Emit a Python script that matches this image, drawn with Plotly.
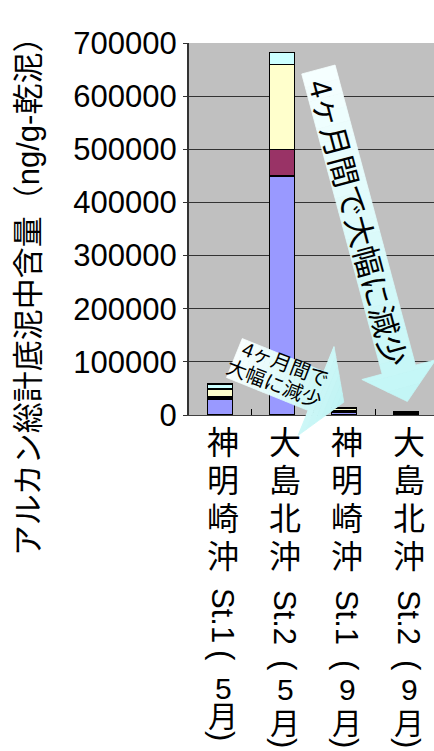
import math
import plotly.graph_objects as go

# ---------------- data ----------------
sites = ["神明崎沖", "大島北沖", "神明崎沖", "大島北沖"]
stations = ["St.1", "St.2", "St.1", "St.2"]
months = ["5", "5", "9", "9"]
categories = [f"{a} {b}（{m}月）" for a, b, m in zip(sites, stations, months)]

series_names = ["成分1", "成分2", "成分3", "成分4"]
series1 = [30000, 450000, 5000, 2500]
series2 = [4000, 50000, 3000, 1000]
series3 = [15000, 160000, 4000, 1500]
series4 = [9000, 22000, 2000, 1000]
series_colors = ["#9999FF", "#993366", "#FFFFCC", "#CCFFFF"]

y_tick_values = [0, 100000, 200000, 300000, 400000, 500000, 600000, 700000]
y_title = "アルカン総計底泥中含量（ng/g-乾泥）"
big_callout = "4ヶ月間で大幅に減少"
small_callout = ["4ヶ月間で", "大幅に減少"]

# ---------------- layout geometry (pixels) ----------------
W, H = 434, 751
L, R, T, B = 189, 434, 43, 415
LATIN = "Liberation Sans, Arial, Noto Sans CJK JP"
CJK = "Noto Sans CJK JP, Liberation Sans"


def px(x):
    return (x - L) / (R - L)


def py(y):
    return (B - y) / (B - T)


fig = go.Figure()
for name, vals, col in zip(series_names, [series1, series2, series3, series4], series_colors):
    fig.add_trace(go.Bar(
        x=categories, y=vals, name=name,
        marker=dict(color=col, line=dict(color="black", width=1.5)),
        hoverinfo="skip",
    ))


# ---------------- gradient callout arrows ----------------
def clip(poly, a, keep_greater):
    out = []
    n = len(poly)
    for i in range(n):
        p = poly[i]
        q = poly[(i + 1) % n]
        pin = p[0] >= a if keep_greater else p[0] <= a
        qin = q[0] >= a if keep_greater else q[0] <= a
        if pin:
            out.append(p)
        if pin != qin:
            t = (a - p[0]) / (q[0] - p[0])
            out.append((a, p[1] + t * (q[1] - p[1])))
    return out


def lerp_col(c0, c1, f):
    return "rgb(%d,%d,%d)" % tuple(round(c0[k] + (c1[k] - c0[k]) * f) for k in range(3))


def arrow_shapes(origin, ang_deg, poly, c0, c1, n=24):
    a = math.radians(ang_deg)
    u = (math.cos(a), math.sin(a))
    v = (-math.sin(a), math.cos(a))
    smin = min(p[0] for p in poly)
    smax = max(p[0] for p in poly)
    shapes = []
    for i in range(n):
        s0 = smin + (smax - smin) * i / n
        s1 = smin + (smax - smin) * (i + 1) / n
        part = clip(clip(poly, s0, True), s1, False)
        if len(part) < 3:
            continue
        col = lerp_col(c0, c1, (i + 0.5) / n)
        pts = [(origin[0] + s * u[0] + t * v[0], origin[1] + s * u[1] + t * v[1]) for s, t in part]
        path = "M " + " L ".join(f"{px(x):.5f},{py(y):.5f}" for x, y in pts) + " Z"
        shapes.append(dict(type="path", xref="paper", yref="paper", path=path,
                           fillcolor=col, line=dict(color=col, width=0.8), layer="above"))
    return shapes


# big arrow: axis pointing down-right, 75deg from horizontal
big_poly = [(0, -17.25), (310.7, -17.25), (310.7, -38.25), (343.7, 0),
            (310.7, 38.25), (310.7, 17.25), (0, 17.25)]
shapes = arrow_shapes((318.4, 69.5), 75, big_poly, (246, 255, 255), (194, 246, 246))

# small arrow: axis 22deg below horizontal, tip towards third bar
small_poly = [(-88, -21), (0, -21), (0, -48), (30, 0), (0, 48), (0, 21), (-88, 21)]
shapes += arrow_shapes((316, 391), 22, small_poly, (250, 255, 255), (190, 244, 244))

annotations = []
annotations.append(dict(text=big_callout, xref="paper", yref="paper", x=px(357), y=py(223),
                        xanchor="center", yanchor="middle", textangle=75, showarrow=False,
                        font=dict(family=LATIN, size=31, color="black")))
for line, (cx, cy) in zip(small_callout, [(285, 363.8), (274.2, 384.2)]):
    annotations.append(dict(text=line, xref="paper", yref="paper", x=px(cx), y=py(cy),
                            xanchor="center", yanchor="middle", textangle=21, showarrow=False,
                            font=dict(family=LATIN, size=20, color="black")))

# y-axis title
annotations.append(dict(text=y_title, xref="paper", yref="paper", x=px(28), y=py(289),
                        xanchor="center", yanchor="middle", textangle=-90, showarrow=False,
                        font=dict(family=LATIN, size=31, color="black")))

# vertical category labels
char_y = [440, 478, 516, 554]
rows_default = dict(st=617, lp=665, num=689, mon=721, rp=743)
rows_first = dict(st=615, lp=655, num=688, mon=714, rp=736)
for i, cat in enumerate(categories):
    rows = rows_first if i == 0 else rows_default
    common = dict(xref="x", yref="paper", x=cat, xshift=3, xanchor="center",
                  yanchor="middle", showarrow=False)
    for ch, yy in zip(sites[i], char_y):
        annotations.append(dict(text=ch, y=py(yy), font=dict(family=CJK, size=32, color="black"), **common))
    annotations.append(dict(text=stations[i], y=py(rows["st"]), textangle=90,
                            font=dict(family=LATIN, size=31, color="black"), **common))
    annotations.append(dict(text="(", y=py(rows["lp"]), textangle=90,
                            font=dict(family=LATIN, size=31, color="black"), **common))
    annotations.append(dict(text=months[i], y=py(rows["num"]),
                            font=dict(family=LATIN, size=30, color="black"), **common))
    annotations.append(dict(text="月", y=py(rows["mon"]),
                            font=dict(family=CJK, size=30, color="black"), **common))
    annotations.append(dict(text=")", y=py(rows["rp"]), textangle=90,
                            font=dict(family=LATIN, size=31, color="black"), **common))

fig.update_layout(
    width=W, height=H,
    margin=dict(l=L, r=W - R, t=T, b=H - B, pad=0),
    barmode="stack", bargap=0.6,
    showlegend=False,
    paper_bgcolor="white", plot_bgcolor="#C0C0C0",
    shapes=shapes, annotations=annotations,
    xaxis=dict(type="category", range=[-0.5, 3.45], showticklabels=False,
               ticks="inside", tickson="boundaries", ticklen=6, tickcolor="black", tickwidth=1,
               showgrid=False, showline=True, linecolor="#404040", linewidth=1, zeroline=False),
    yaxis=dict(range=[0, 700000], tickvals=y_tick_values, ticktext=[str(v) for v in y_tick_values],
               showgrid=True, gridcolor="#333333", gridwidth=1,
               showline=True, linecolor="#333333", linewidth=2,
               ticks="outside", ticklen=4, tickcolor="#333333",
               zeroline=False,
               tickfont=dict(family=LATIN, size=31, color="black")),
)

fig.write_html("out.html", config={"displayModeBar": False})
